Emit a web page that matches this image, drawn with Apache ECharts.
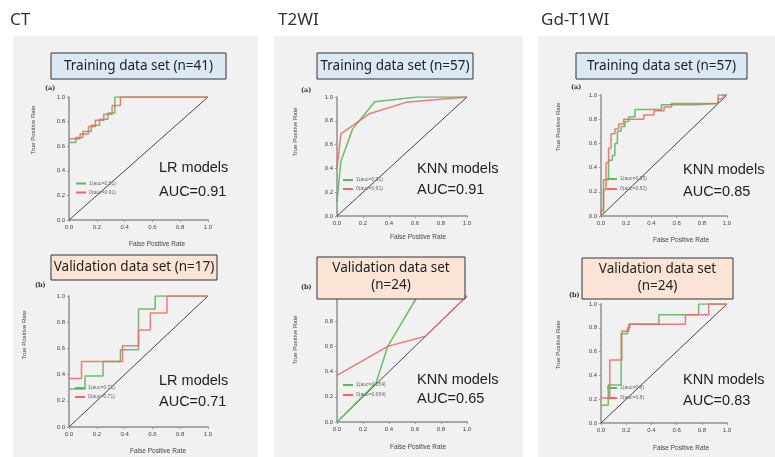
<!DOCTYPE html>
<html>
<head>
<meta charset="utf-8">
<script src="https://cdn.jsdelivr.net/npm/echarts@6.0.0/dist/echarts.min.js"></script>
<style>
  html, body { margin: 0; padding: 0; background: #fff; }
  #chart { width: 775px; height: 457px; }
</style>
</head>
<body>
<div id="chart"></div>
<script>
// tick values on both axes
const ticks = [0, 0.2, 0.4, 0.6, 0.8, 1.0];
const diagonal = [[0, 0], [1, 1]];

// CT, training (n=41), LR
const ctTrainG = [[0,0.63],[0.05,0.63],[0.05,0.67],[0.10,0.67],[0.10,0.72],[0.16,0.72],[0.16,0.77],[0.22,0.77],[0.22,0.82],[0.28,0.82],[0.28,0.87],[0.33,0.87],[0.33,1],[1,1]];
const ctTrainR = [[0,0.66],[0.08,0.66],[0.08,0.70],[0.14,0.70],[0.14,0.76],[0.19,0.76],[0.19,0.81],[0.25,0.81],[0.25,0.86],[0.31,0.86],[0.31,0.93],[0.37,0.93],[0.37,1],[1,1]];
// CT, validation (n=17), LR
const ctValG = [[0,0.29],[0.115,0.29],[0.115,0.39],[0.245,0.39],[0.245,0.5],[0.37,0.5],[0.37,0.59],[0.5,0.59],[0.5,0.9],[0.62,0.9],[0.62,1],[1,1]];
const ctValR = [[0,0.37],[0.09,0.37],[0.09,0.5],[0.385,0.5],[0.385,0.62],[0.5,0.62],[0.5,0.74],[0.585,0.74],[0.585,0.87],[0.705,0.87],[0.705,1],[1,1]];
// T2WI, training (n=57), KNN
const t2TrainG = [[0,0.12],[0.03,0.46],[0.12,0.73],[0.29,0.96],[0.62,1],[1,1]];
const t2TrainR = [[0,0.4],[0.03,0.69],[0.25,0.86],[0.53,0.955],[1,1]];
// T2WI, validation (n=24), KNN
const t2ValG = [[0,0],[0.3,0.31],[0.39,0.6],[0.62,1],[1,1]];
const t2ValR = [[0,0.37],[0.39,0.6],[0.68,0.68],[1,1]];
// Gd-T1WI, training (n=57), KNN
const gdTrainG = [[0,0],[0.02,0.02],[0.02,0.3],[0.06,0.3],[0.06,0.46],[0.09,0.46],[0.09,0.5],[0.11,0.5],[0.11,0.6],[0.13,0.6],[0.13,0.7],[0.16,0.7],[0.16,0.74],[0.19,0.74],[0.19,0.78],[0.22,0.78],[0.22,0.82],[0.27,0.82],[0.27,0.88],[0.48,0.88],[0.48,0.92],[0.75,0.92],[0.75,0.93],[0.93,0.93],[0.93,1],[1,1]];
const gdTrainR = [[0,0],[0,0.05],[0.02,0.05],[0.02,0.22],[0.04,0.22],[0.04,0.44],[0.06,0.44],[0.06,0.56],[0.08,0.56],[0.08,0.68],[0.11,0.68],[0.11,0.72],[0.14,0.72],[0.14,0.76],[0.18,0.76],[0.18,0.8],[0.34,0.8],[0.34,0.835],[0.42,0.835],[0.42,0.87],[0.5,0.87],[0.5,0.9],[0.56,0.9],[0.56,0.93],[0.93,0.93],[0.93,0.97],[0.97,0.97],[0.97,1],[1,1]];
// Gd-T1WI, validation (n=24), KNN
const gdValG = [[0,0.15],[0.058,0.15],[0.058,0.32],[0.16,0.32],[0.16,0.75],[0.21,0.75],[0.21,0.8],[0.23,0.8],[0.23,0.83],[0.46,0.83],[0.46,0.91],[0.775,0.91],[0.775,1],[1,1]];
const gdValR = [[0,0.21],[0.07,0.21],[0.07,0.53],[0.165,0.53],[0.165,0.77],[0.22,0.77],[0.22,0.83],[0.67,0.83],[0.67,0.91],[0.855,0.91],[0.855,1],[1,1]];

const modelNames = ['LR models', 'LR models', 'KNN models', 'KNN models', 'KNN models', 'KNN models'];
const aucTexts = ['AUC=0.91', 'AUC=0.71', 'AUC=0.91', 'AUC=0.65', 'AUC=0.85', 'AUC=0.83'];
const legendG = ['1(auc=0.91)', '1(auc=0.71)', '1(auc=0.91)', '1(auc=0.654)', '1(auc=0.85)', '1(auc=0.8)'];
const legendR = ['0(auc=0.91)', '0(auc=0.71)', '0(auc=0.91)', '0(auc=0.654)', '0(auc=0.82)', '0(auc=0.8)'];
const curvesG = [ctTrainG, ctValG, t2TrainG, t2ValG, gdTrainG, gdValG];
const curvesR = [ctTrainR, ctValR, t2TrainR, t2ValR, gdTrainR, gdValR];

// layout of each small plot (pixels)
const plots = [
  { grid: [69, 97, 139, 123], tag: '(a)', tagPos: [45, 88], box: [51, 53, 175, 26], boxText: ['Training data set (n=41)'], fill: '#dce9f5', model: [159, 168, 192], leg: [76, 180.5, 3], yName: [33, 130], xName: [157, 244] },
  { grid: [69, 296, 139, 131], tag: '(b)', tagPos: [35, 285], box: [51, 255, 166, 25], boxText: ['Validation data set (n=17)'], fill: '#fbe4d6', model: [159, 381, 402], leg: [75, 385, 3], yName: [24, 335], xName: [158, 451] },
  { grid: [337, 97, 130, 119], tag: '(a)', tagPos: [301, 90], box: [317, 53, 156, 26], boxText: ['Training data set (n=57)'], fill: '#dce9f5', model: [417, 169, 190], leg: [343, 177, 3], yName: [295, 132], xName: [418, 237] },
  { grid: [337, 296, 130, 126], tag: '(b)', tagPos: [301, 287], box: [317, 257, 148, 42], boxText: ['Validation data set', '(n=24)'], fill: '#fbe4d6', model: [417, 380, 399], leg: [343, 382, 4], yName: [295, 340], xName: [418, 447] },
  { grid: [601, 95, 126, 121], tag: '(a)', tagPos: [571, 87], box: [576, 53, 171, 26], boxText: ['Training data set (n=57)'], fill: '#dce9f5', model: [683, 170, 192], leg: [607, 176, 4], yName: [558, 127], xName: [681, 240] },
  { grid: [601, 304, 126, 119], tag: '(b)', tagPos: [569, 295], box: [582, 258, 151, 41], boxText: ['Validation data set', '(n=24)'], fill: '#fbe4d6', model: [683, 380, 401], leg: [607, 385, 4], yName: [558, 345], xName: [681, 448] }
];

const panels = [
  { rect: [13, 36, 245, 421], title: 'CT', titlePos: [10, 20] },
  { rect: [274, 36, 249, 421], title: 'T2WI', titlePos: [278, 20] },
  { rect: [538, 36, 237, 421], title: 'Gd-T1WI', titlePos: [541, 20] }
];

const GREEN = '#5cb85c';
const RED = '#f26464';
const tickFont = { fontSize: 6, color: '#444', fontFamily: 'Liberation Sans, Arial, sans-serif' };

const grids = [], xAxes = [], yAxes = [], series = [], legends = [], graphics = [];

panels.forEach(p => {
  graphics.push({ type: 'rect', z: -10, shape: { x: p.rect[0], y: p.rect[1], width: p.rect[2], height: p.rect[3] }, style: { fill: '#f1f1f1' } });
  graphics.push({ type: 'text', z: 10, x: p.titlePos[0], y: p.titlePos[1], style: { text: p.title, font: '17px "Noto Sans", sans-serif', fill: '#333', verticalAlign: 'middle', textVerticalAlign: 'middle' } });
});

plots.forEach((p, i) => {
  grids.push({ left: p.grid[0], top: p.grid[1], width: p.grid[2], height: p.grid[3], containLabel: false });
  const axisBase = {
    type: 'value', min: 0, max: 1, interval: 0.2, gridIndex: i,
    splitLine: { show: false },
    axisLine: { show: true, lineStyle: { color: '#a8a8a8', width: 2 } },
    axisTick: { show: true, length: 2, lineStyle: { color: '#999' } },
    axisLabel: Object.assign({ formatter: v => v.toFixed(1), margin: 4 }, tickFont)
  };
  xAxes.push(Object.assign({}, axisBase));
  yAxes.push(Object.assign({}, axisBase));
  series.push({ type: 'line', name: 'ref', xAxisIndex: i, yAxisIndex: i, data: diagonal, symbol: 'none', lineStyle: { color: '#454545', width: 1 }, z: 2 });
  series.push({ type: 'line', name: legendG[i], xAxisIndex: i, yAxisIndex: i, data: curvesG[i], symbol: 'none', color: GREEN, lineStyle: { color: GREEN, width: 1.5, opacity: 0.9 }, z: 3 });
  series.push({ type: 'line', name: legendR[i], xAxisIndex: i, yAxisIndex: i, data: curvesR[i], symbol: 'none', color: RED, lineStyle: { color: RED, width: 1.5, opacity: 0.85 }, z: 4 });
  legends.push({
    data: [{ name: legendG[i], itemStyle: { color: GREEN } }, { name: legendR[i], itemStyle: { color: RED } }],
    left: p.leg[0], top: p.leg[1], orient: 'vertical', padding: 0, itemGap: p.leg[2],
    icon: 'rect', itemWidth: 10, itemHeight: 2, selectedMode: false,
    textStyle: { fontSize: 5, lineHeight: 6, color: '#666', padding: [0, 0, 0, -2] }
  });

  // title box
  graphics.push({ type: 'rect', z: 50, shape: { x: p.box[0], y: p.box[1], width: p.box[2], height: p.box[3] }, style: { fill: p.fill, stroke: '#333', lineWidth: 1 } });
  const cx = p.box[0] + p.box[2] / 2;
  if (p.boxText.length === 1) {
    graphics.push({ type: 'text', z: 51, x: cx, y: p.box[1] + p.box[3] / 2, style: { text: p.boxText[0], font: '13.5px "Noto Sans", sans-serif', fill: '#222', align: 'center', verticalAlign: 'middle', textAlign: 'center', textVerticalAlign: 'middle' } });
  } else {
    graphics.push({ type: 'text', z: 51, x: cx, y: p.box[1] + 11.5, style: { text: p.boxText[0], font: '13.5px "Noto Sans", sans-serif', fill: '#222', align: 'center', verticalAlign: 'middle', textAlign: 'center', textVerticalAlign: 'middle' } });
    graphics.push({ type: 'text', z: 51, x: cx, y: p.box[1] + 28, style: { text: p.boxText[1], font: '13.5px "Noto Sans", sans-serif', fill: '#222', align: 'center', verticalAlign: 'middle', textAlign: 'center', textVerticalAlign: 'middle' } });
  }
  // panel tag, model text
  graphics.push({ type: 'text', z: 10, x: p.tagPos[0], y: p.tagPos[1], style: { text: p.tag, font: 'bold 6.5px "DejaVu Serif", serif', fill: '#333', verticalAlign: 'middle', textVerticalAlign: 'middle' } });
  graphics.push({ type: 'text', z: 10, x: p.model[0], y: p.model[1], style: { text: modelNames[i], font: '14.5px "Liberation Sans", Arial, sans-serif', fill: '#222', verticalAlign: 'middle', textVerticalAlign: 'middle' } });
  graphics.push({ type: 'text', z: 10, x: p.model[0], y: p.model[2], style: { text: aucTexts[i], font: '14.5px "Liberation Sans", Arial, sans-serif', fill: '#222', verticalAlign: 'middle', textVerticalAlign: 'middle' } });
  // axis names
  graphics.push({ type: 'text', z: 10, x: p.yName[0], y: p.yName[1], rotation: Math.PI / 2, style: { text: 'True Positive Rate', font: '6px "Liberation Sans Narrow", "Liberation Sans", sans-serif', fill: '#444', align: 'center', verticalAlign: 'middle', textAlign: 'center', textVerticalAlign: 'middle' } });
  graphics.push({ type: 'text', z: 10, x: p.xName[0], y: p.xName[1], style: { text: 'False Positive Rate', font: '6.5px "Liberation Sans", sans-serif', fill: '#444', align: 'center', verticalAlign: 'middle', textAlign: 'center', textVerticalAlign: 'middle' } });
});

const chart = echarts.init(document.getElementById('chart'), null, { renderer: 'canvas' });
chart.setOption({
  animation: false,
  backgroundColor: '#ffffff',
  grid: grids,
  xAxis: xAxes,
  yAxis: yAxes,
  legend: legends,
  series: series,
  graphic: graphics
});
</script>
</body>
</html>
